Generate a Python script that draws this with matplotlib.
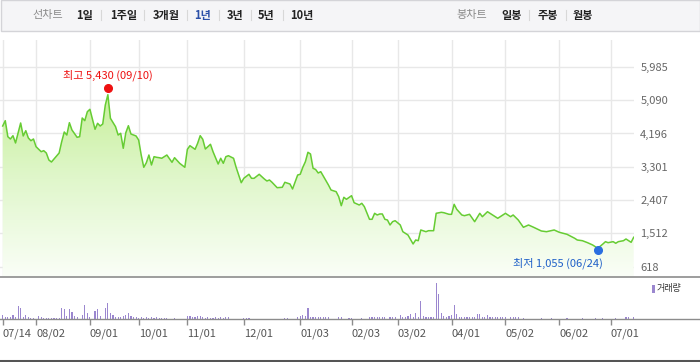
import numpy as np
import pandas as pd
import matplotlib
matplotlib.use('Agg')
import matplotlib.pyplot as plt
from matplotlib.patches import Polygon, Rectangle
from matplotlib.lines import Line2D
from matplotlib.colors import LinearSegmentedColormap

plt.rcParams['font.family'] = ['Noto Sans CJK KR', 'DejaVu Sans']

# ---------------- data ----------------
start_date = '2021-07-14'
end_date = '2022-07-14'
market_holidays = ['2021-08-16', '2021-09-20', '2021-09-21', '2021-09-22',
                   '2021-10-04', '2021-10-11', '2021-12-31', '2022-01-31',
                   '2022-02-01', '2022-02-02', '2022-03-01', '2022-03-09',
                   '2022-05-05', '2022-06-01', '2022-06-06']

# trading-day number of each price reading, and the closing price
price_idx = [0, 1, 2, 3, 4, 5, 6, 7, 8, 9, 10, 11, 12, 13, 15, 16, 17, 18, 19, 20,
             22, 23, 24, 25, 26, 27, 29, 30, 31, 32, 33, 34, 36, 37, 38, 39, 40, 41, 42, 44,
             45, 46, 47, 48, 49, 50, 52, 53, 54, 55, 56, 57, 58, 59, 60, 61, 62, 64, 66, 67,
             69, 71, 72, 73, 75, 76, 77, 78, 79, 81, 82, 84, 85, 86, 87, 88, 90, 91, 93, 94,
             96, 97, 98, 100, 102, 103, 104, 105, 107, 109, 110, 112, 113, 115, 116, 117, 118, 119, 120, 121,
             122, 123, 124, 127, 128, 130, 131, 132, 133, 134, 136, 137, 139, 140, 141, 143, 144, 145, 146, 147,
             148, 149, 150, 151, 152, 153, 155, 156, 158, 160, 161, 162, 163, 165, 166, 168, 169, 171, 172, 174,
             175, 176, 177, 179, 180, 182, 184, 186, 187, 189, 191, 193, 196, 198, 199, 201, 203, 205, 207, 210,
             212, 215, 217, 220, 223, 224, 226, 228, 230, 232, 234, 235, 236, 238, 239, 240, 242, 243, 245, 246]
price = [4397, 4540, 4110, 4048, 4137, 3941, 4209, 4478, 4129, 4271, 4075, 4002, 4048, 3841, 3707, 3734, 3672, 3484, 3430, 3511,
         3672, 3976, 4236, 4155, 4486, 4290, 4094, 4110, 4612, 4540, 4781, 4846, 4309, 4470, 4397, 4451, 4961, 5238, 4604, 4378,
         4155, 4201, 3798, 4217, 4405, 4182, 4129, 4021, 3618, 3288, 3411, 3618, 3350, 3573, 3556, 3546, 3530, 3618, 3422, 3546,
         3395, 3288, 3771, 3868, 3771, 3933, 4137, 4040, 3779, 3906, 3707, 3376, 3530, 3395, 3573, 3599, 3530, 3288, 2874, 2992,
         3100, 2992, 2992, 3100, 2974, 2920, 2947, 2885, 2740, 2751, 2885, 2839, 2705, 3081, 3100, 3288, 3438, 3691, 3645, 3261,
         3229, 3135, 3170, 2812, 2678, 2633, 2498, 2256, 2482, 2428, 2525, 2337, 2275, 2321, 2230, 1891, 1891, 2052, 2007, 2034,
         2034, 1891, 1872, 1738, 1827, 1854, 1738, 1558, 1469, 1228, 1335, 1316, 1604, 1558, 1585, 1585, 2052, 2079, 2068, 2025,
         2025, 2294, 2160, 2007, 1988, 2025, 1827, 2052, 1961, 2095, 2007, 1918, 2052, 1961, 2007, 1872, 1676, 1738, 1676, 1577,
         1558, 1604, 1542, 1488, 1381, 1335, 1316, 1263, 1201, 1112, 1228, 1290, 1263, 1290, 1247, 1290, 1316, 1362, 1273, 1408]

# daily volume (relative units), one per trading day
volume = [37, 20, 20, 13, 37, 20, 127, 110, 20, 37, 20, 10, 10, 0, 30, 20, 10, 10, 10, 10,
          10, 10, 10, 110, 94, 30, 100, 63, 30, 17, 0, 37, 137, 60, 20, 0, 77, 97, 30, 0,
          110, 157, 53, 37, 20, 20, 20, 30, 37, 60, 30, 13, 13, 10, 13, 10, 13, 10, 13, 10,
          13, 10, 10, 10, 10, 0, 0, 10, 0, 0, 0, 0, 30, 30, 13, 13, 30, 30, 13, 10,
          13, 10, 10, 13, 10, 13, 10, 13, 20, 0, 0, 0, 0, 0, 10, 10, 10, 0, 0, 0,
          0, 0, 0, 0, 0, 0, 0, 0, 0, 0, 10, 10, 0, 0, 0, 13, 23, 37, 30, 110,
          17, 17, 13, 13, 13, 13, 13, 13, 0, 0, 0, 17, 17, 0, 0, 10, 10, 0, 0, 0,
          10, 0, 0, 17, 13, 13, 13, 13, 13, 13, 0, 13, 13, 13, 0, 37, 13, 20, 30, 44,
          13, 54, 20, 177, 30, 20, 13, 13, 20, 360, 250, 54, 27, 20, 27, 37, 137, 44, 17, 20,
          13, 17, 20, 13, 13, 47, 47, 13, 20, 37, 13, 13, 13, 13, 13, 13, 13, 0, 13, 20,
          13, 13, 0, 10, 0, 0, 0, 0, 0, 0, 10, 0, 0, 0, 10, 0, 0, 0, 0, 0,
          10, 0, 0, 0, 0, 0, 10, 0, 0, 0, 0, 10, 0, 0, 10, 0, 0, 0, 0, 10,
          0, 0, 0, 17, 13, 0, 20]

y_ticks = [618, 1512, 2407, 3301, 4196, 5090, 5985]
high_value, high_date = 5430, '2021-09-10'
low_value, low_date = 1055, '2022-06-24'
period_tabs = ['1일', '1주일', '3개월', '1년', '3년', '5년', '10년']
candle_tabs = ['일봉', '주봉', '월봉']
volume_label = '거래량'

# ---------------- calendar ----------------
days = pd.bdate_range(start_date, end_date)
days = days[~days.isin(pd.to_datetime(market_holidays))]
n_days = len(days)
day_idx = np.arange(n_days)
month_start = [0] + [i for i in range(1, n_days) if days[i].month != days[i - 1].month]
tick_labels = [days[i].strftime('%m/%d') for i in month_start]
hi_i = int(np.where(days == pd.Timestamp(high_date))[0][0])
lo_i = int(np.where(days == pd.Timestamp(low_date))[0][0])

# ---------------- figure ----------------
W, H = 700, 362
fig = plt.figure(figsize=(W / 100, H / 100), dpi=100)
fig.patch.set_facecolor('white')

def fx(x):
    return x / W

def fy(y):
    return 1 - y / H

x0, dx = 2.7, 2.565  # pixel of day 0, pixels per trading day
def px_to_i(p):
    return (p - x0) / dx

# top tab bar
fig.add_artist(Rectangle((0.5 / W, fy(30.5)), 1 - 1 / W, 30 / H, transform=fig.transFigure,
                         facecolor='#f5f5f7', edgecolor='#d4d4d8', lw=1))
tab_style = dict(ha='center', va='center', fontsize=8, fontweight='bold')
fig.text(fx(48), fy(15), '선차트', ha='center', va='center', fontsize=8, color='#8a8a8a')
period_x = [85, 123.5, 166, 203, 235, 266.5, 301.5]
for i, (t, xx) in enumerate(zip(period_tabs, period_x)):
    col = '#2b50a8' if t == '1년' else '#222222'
    fig.text(fx(xx), fy(15), t, color=col, **tab_style)
for sx in [101, 144, 187, 219, 251, 283]:
    fig.add_artist(Line2D([fx(sx), fx(sx)], [fy(10), fy(20)], color='#d8d8d8', lw=0.8))
fig.text(fx(471.5), fy(15), '봉차트', ha='center', va='center', fontsize=8, color='#8a8a8a')
for t, xx in zip(candle_tabs, [512, 547.5, 583]):
    fig.text(fx(xx), fy(15), t, color='#222222', **tab_style)
for sx in [529, 566]:
    fig.add_artist(Line2D([fx(sx), fx(sx)], [fy(10), fy(20)], color='#d8d8d8', lw=0.8))

# price axes
ax = fig.add_axes([0, fy(276), 634 / W, (276 - 40) / H])
ymin, ymax = 368, 6707
xmin, xmax = px_to_i(0), px_to_i(634)
ax.set_xlim(xmin, xmax)
ax.set_ylim(ymin, ymax)
for s in ax.spines.values():
    s.set_visible(False)
ax.set_xticks(month_start)
ax.set_xticklabels([])
ax.tick_params(axis='x', length=0)
ax.yaxis.tick_right()
ax.set_yticks(y_ticks)
ax.set_yticklabels([f'{v:,}' for v in y_ticks])
ax.tick_params(axis='y', length=0, pad=4.5, labelsize=8, labelcolor='#666666')
ax.grid(True, color='#e8e8e8', lw=1)
ax.set_axisbelow(True)

# gradient fill under the line
cmap = LinearSegmentedColormap.from_list('g', ['#fafef7', '#e0f7cb', '#c4ee94'])
grad = np.linspace(0, 1, 256).reshape(-1, 1)
im = ax.imshow(grad, extent=[xmin, xmax, ymin, 5600], origin='lower', aspect='auto',
               cmap=cmap, zorder=1, interpolation='bilinear')
verts = np.column_stack([np.r_[price_idx[0], price_idx, price_idx[-1]],
                         np.r_[ymin, price, ymin]])
poly = Polygon(verts, closed=True, facecolor='none', edgecolor='none')
ax.add_patch(poly)
im.set_clip_path(poly)
ax.set_xlim(xmin, xmax)
ax.set_ylim(ymin, ymax)

ax.plot(price_idx, price, color='#66cc33', lw=1.1, zorder=3)

# high / low markers
ax.plot(hi_i, high_value, 'o', color='#ee1111', ms=5.5, zorder=4)
ax.annotate(f'최고 {high_value:,} ({days[hi_i].strftime("%m/%d")})', (hi_i, high_value),
            xytext=(0, 9), textcoords='offset points', ha='center', va='center',
            fontsize=8, color='#ee1111')
ax.plot(lo_i, low_value, 'o', color='#2a6ee0', ms=5.5, zorder=4)
ax.annotate(f'최저 {low_value:,} ({days[lo_i].strftime("%m/%d")})', (lo_i, low_value),
            xytext=(3.5, -9.5), textcoords='offset points', ha='right', va='center',
            fontsize=8, color='#1f60c8')

# separator line
fig.add_artist(Line2D([0, 1], [fy(276.5), fy(276.5)], color='#8c8c8c', lw=1.2))

# volume axes
vax = fig.add_axes([0, fy(318.7), 1, (318.7 - 277.5) / H])
vax.set_xlim(xmin, px_to_i(W))
vax.set_ylim(0, 417)
vax.bar(day_idx, volume, width=0.45, color='#9b87cf', linewidth=0)
for k, s in vax.spines.items():
    s.set_visible(k == 'bottom')
vax.spines['bottom'].set_color('#8c8c8c')
vax.spines['bottom'].set_linewidth(1.0)
vax.set_yticks([])
vax.set_xticks(month_start)
vax.set_xticklabels(tick_labels)
vax.tick_params(axis='x', length=4, width=1, color='#8c8c8c', pad=3,
                labelsize=8, labelcolor='#555555')
for lab in vax.get_xticklabels():
    lab.set_ha('left')
vax.patch.set_alpha(0)

# volume legend
fig.add_artist(Rectangle((fx(652), fy(293)), 3 / W, 8 / H, transform=fig.transFigure,
                         facecolor='#9b87cf', edgecolor='none'))
fig.text(fx(657), fy(289), volume_label, ha='left', va='center', fontsize=6.5, color='#333333')

# bottom rule
fig.add_artist(Line2D([0, 1], [fy(360.5), fy(360.5)], color='#555555', lw=2.2))

fig.savefig('out.png', dpi=100)
